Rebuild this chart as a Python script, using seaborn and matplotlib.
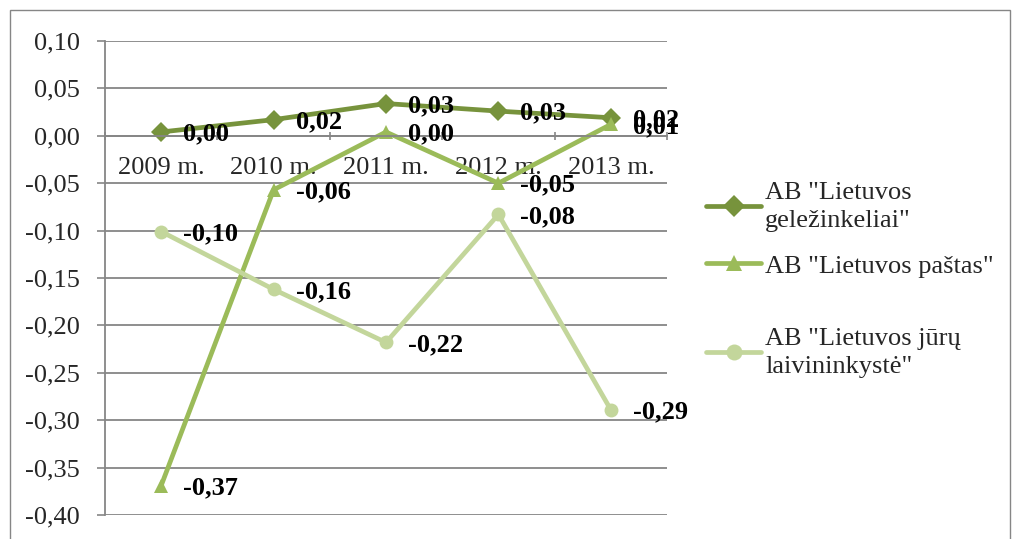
import matplotlib.pyplot as plt
import matplotlib.patches as mpatches
from matplotlib.ticker import FixedLocator, FuncFormatter
import pandas as pd
import seaborn as sns

# data
years = ['2009 m.', '2010 m.', '2011 m.', '2012 m.', '2013 m.']
gelezinkeliai = [0.004, 0.017, 0.034, 0.026, 0.019]
pastas = [-0.369, -0.057, 0.004, -0.050, 0.012]
laivininkyste = [-0.101, -0.162, -0.218, -0.083, -0.289]
series_names = ['AB "Lietuvos\ngeležinkeliai"', 'AB "Lietuvos paštas"',
                'AB "Lietuvos jūrų\nlaivininkystė"']
colors = ['#77933C', '#9BBB59', '#C3D69B']
markers = ['D', '^', 'o']

df = pd.DataFrame({'x': list(range(len(years))) * 3,
                   'value': gelezinkeliai + pastas + laivininkyste,
                   'series': [s for s in series_names for _ in years]})

sns.set_theme(style='white')
plt.rcParams['font.family'] = ['Liberation Serif', 'DejaVu Serif']

fig = plt.figure(figsize=(10.19, 5.39), dpi=100)
ax = fig.add_axes([0.103, 0.0445, 0.5516, 0.8795])

sns.lineplot(data=df, x='x', y='value', hue='series', style='series',
             hue_order=series_names, style_order=series_names,
             palette=colors, markers=markers, dashes=False,
             linewidth=3.4, markersize=10, markeredgewidth=0, ax=ax)

# data labels
for name in series_names:
    sub = df[df.series == name]
    for xv, yv in zip(sub.x, sub.value):
        ax.annotate(f'{yv:.2f}'.replace('.', ','), (xv, yv),
                    xytext=(22, -2), textcoords='offset pixels',
                    ha='left', va='center', fontsize=19, fontweight='bold',
                    color='black')

ax.set_xlim(-0.5, len(years) - 0.5)
ax.set_ylim(-0.40, 0.10)
ax.yaxis.set_major_locator(FixedLocator([-0.40 + 0.05 * i for i in range(11)]))
ax.yaxis.set_major_formatter(FuncFormatter(lambda v, p: f'{v:.2f}'.replace('.', ',')))
ax.set_xticks(range(len(years)))
ax.set_xticklabels(years)
ax.set_xticks([i - 0.5 for i in range(len(years) + 1)], minor=True)
ax.tick_params(axis='x', which='major', length=0, pad=15, labelsize=19)
ax.tick_params(axis='x', which='minor', length=6, width=1.2, color='#868686',
               direction='inout', bottom=True)
ax.tick_params(axis='y', length=6, width=1.2, color='#868686', left=True,
               labelsize=19, pad=12)
ax.grid(axis='y', color='#868686', linewidth=1.3)
ax.set_axisbelow(True)
ax.spines['bottom'].set_position(('data', 0))
for s in ['top', 'right']:
    ax.spines[s].set_visible(False)
for s in ['left', 'bottom']:
    ax.spines[s].set_color('#868686')
    ax.spines[s].set_linewidth(1.3)
ax.set_xlabel('')
ax.set_ylabel('')

# legend: one block per series, placed like the Excel legend
handles, labels = ax.get_legend_handles_labels()
ax.get_legend().remove()
legend_y = [207, 266, 353]  # text centres in pixels from the top
for h, lab, yy in zip(handles, labels, legend_y):
    leg = fig.legend([h], [lab], loc='center left',
                     bbox_to_anchor=(706 / 1019, 1 - yy / 539),
                     bbox_transform=fig.transFigure, frameon=False,
                     fontsize=19, handlelength=2.1, handletextpad=0.15,
                     borderpad=0, borderaxespad=0, markerscale=1.15)
    for t in leg.get_texts():
        t.set_linespacing(1.35)

fig.patches.append(mpatches.Rectangle((10 / 1019, -0.05), 1000 / 1019, 1.05 - 10 / 539,
                                      transform=fig.transFigure, fill=False,
                                      edgecolor='#868686', linewidth=1))

fig.savefig('out.png', dpi=100)
